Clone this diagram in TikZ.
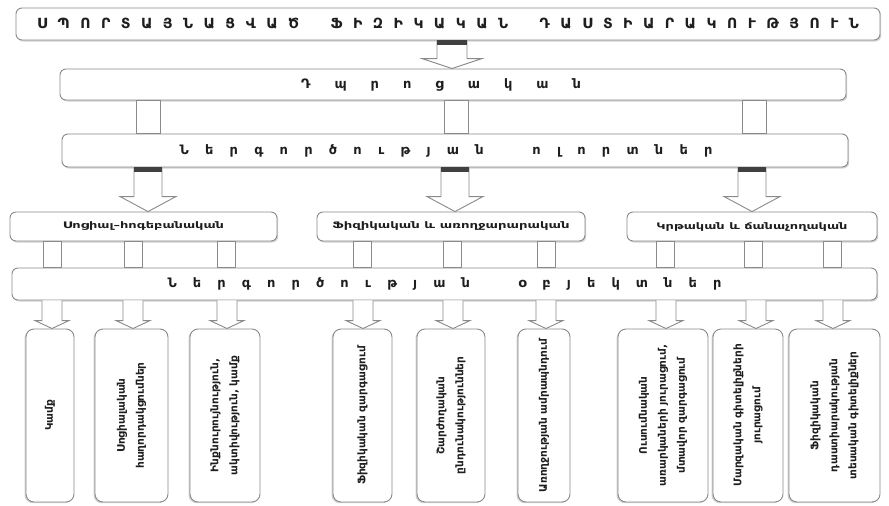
\documentclass[tikz,border=0pt]{standalone}
\usepackage{fontspec}
\usepackage{graphicx}
\setmainfont{DejaVu Sans}
\usetikzlibrary{calc,shadows}
\definecolor{bordergray}{HTML}{8A8A8A}
\definecolor{txt}{HTML}{1E1E1E}
\tikzset{
  boxbase/.style={draw=bordergray, line width=0.9pt, fill=white, rounded corners=6pt, inner sep=0pt, text=txt},
  box/.style={boxbase, drop shadow={shadow xshift=1.2pt, shadow yshift=-1.5pt, fill=black!35, opacity=0.5}},
  vbox/.style={boxbase, rotate=90, rounded corners=8pt, align=center, minimum width=173pt,
     font=\fontsize{10.5}{19}\selectfont\bfseries,
     drop shadow={shadow xshift=-1.5pt, shadow yshift=-1.2pt, fill=black!35, opacity=0.5}},
  conn/.style={draw=bordergray, line width=0.9pt, fill=white},
  barrowst/.style={draw=bordergray, line width=0.9pt, fill=white, line join=miter},
  bigtext/.style={font=\fontsize{13}{13}\selectfont\bfseries},
  grptext/.style={font=\fontsize{9}{9}\selectfont\bfseries},
}
% #1 x, #2 source anchor, #3 target anchor, #4 shaft half width, #5 head half width, #6 head length
\newcommand\blockarrow[6]{%
  \coordinate (ba-x) at (#1,0);
  \coordinate (ba-t) at (ba-x |- #2);
  \coordinate (ba-b) at (ba-x |- #3);
  \draw[barrowst] ($(ba-t)+(-#4,0)$) -- ($(ba-b)+(-#4,-#6)$)
    -- ($(ba-b)+(-#5,-#6)$) -- (ba-b)
    -- ($(ba-b)+(#5,-#6)$) -- ($(ba-b)+(#4,-#6)$)
    -- ($(ba-t)+(#4,0)$);
}
\newcommand\arrowbar[3]{%
  \coordinate (bb-x) at (#1,0);
  \coordinate (bb-t) at (bb-x |- #2);
  \fill[black!75] ($(bb-t)+(-#3,0)$) rectangle ($(bb-t)+(#3,5)$);
}
\newcommand\connrect[4]{%
  \coordinate (cr-x) at (#1,0);
  \coordinate (cr-t) at (cr-x |- #2);
  \coordinate (cr-b) at (cr-x |- #3);
  \draw[conn] ($(cr-t)+(-#4,0)$) rectangle ($(cr-b)+(#4,0)$);
}
\begin{document}
\begin{tikzpicture}[x=1pt,y=-1pt]
\fill[white] (0,0) rectangle (889,506);
\useasboundingbox (0,0) rectangle (889,506);

% title
\node[box, minimum width=864pt, minimum height=32pt, font=\fontsize{14}{14}\selectfont\bfseries] (title) at (448,24)
 {\hbox to 822pt{Ս\hfill Պ\hfill Ո\hfill Ր\hfill Տ\hfill Ա\hfill Յ\hfill Ն\hfill Ա\hfill Ց\hfill Վ\hfill Ա\hfill Ծ\hfill\hfill\hfill Ֆ\hfill Ի\hfill Զ\hfill Ի\hfill Կ\hfill Ա\hfill Կ\hfill Ա\hfill Ն\hfill\hfill\hfill Դ\hfill Ա\hfill Ս\hfill Տ\hfill Ի\hfill Ա\hfill Ր\hfill Ա\hfill Կ\hfill Ո\hfill Ւ\hfill Թ\hfill Յ\hfill Ո\hfill Ւ\hfill Ն}};

% school
\node[box, bigtext, minimum width=786pt, minimum height=31pt] (dp) at (453,84.5)
 {\hbox to 280pt{Դ\hfill պ\hfill ր\hfill ո\hfill ց\hfill ա\hfill կ\hfill ա\hfill ն}\hspace*{24pt}};

% spheres
\node[box, bigtext, minimum width=786pt, minimum height=33pt] (nerg) at (455,150.5)
 {\hbox to 533pt{Ն\hfill ե\hfill ր\hfill գ\hfill ո\hfill ր\hfill ծ\hfill ո\hfill ւ\hfill թ\hfill յ\hfill ա\hfill ն\hfill\hfill\hfill ո\hfill լ\hfill ո\hfill ր\hfill տ\hfill ն\hfill ե\hfill ր}\hspace*{18pt}};

% groups
\node[box, grptext, minimum width=267pt, minimum height=29pt] (g1) at (143.5,226.5)
 {\resizebox{161pt}{\height}{Սոցիալ–հոգեբանական}};
\node[box, grptext, minimum width=268pt, minimum height=29pt] (g2) at (451,226.5)
 {\resizebox{237pt}{\height}{Ֆիզիկական և առողջարարական}};
\node[box, grptext, minimum width=250pt, minimum height=29pt] (g3) at (752,226.5)
 {\resizebox{191pt}{\height}{Կրթական և ճանաչողական}};

% objects
\node[box, bigtext, minimum width=865pt, minimum height=32pt] (obj) at (444.5,284)
 {\hbox to 554pt{Ն\hfill ե\hfill ր\hfill գ\hfill ո\hfill ր\hfill ծ\hfill ո\hfill ւ\hfill թ\hfill յ\hfill ա\hfill ն\hfill\hfill\hfill օ\hfill բ\hfill յ\hfill ե\hfill կ\hfill տ\hfill ն\hfill ե\hfill ր}};

% bottom boxes (rotated: east anchor is the top edge)
\node[vbox, minimum height=48pt] (b1) at (50,415.5) {Կամք};
\node[vbox, minimum height=73pt] (b2) at (131.5,415.5) {Սոցիալական\\հաղորդակցումներ};
\node[vbox, minimum height=70pt] (b3) at (225,415.5) {Ինքնուրույնություն,\\ակտիվություն, կամք};
\node[vbox, minimum height=59pt] (b4) at (362.5,415.5) {Ֆիզիկական զարգացում};
\node[vbox, minimum height=68pt] (b5) at (451,415.5) {Շարժողական\\ընդունակություններ};
\node[vbox, minimum height=52pt] (b6) at (544,415.5) {Առողջության ամրապնդում};
\node[vbox, minimum height=90pt] (b7) at (663,415.5) {Ուսումնական\\առարկաների յուրացում,\\մտավոր զարգացում};
\node[vbox, minimum height=70pt] (b8) at (748,415.5) {Մարզական գիտելիքների\\յուրացում};
\node[vbox, minimum height=91pt] (b9) at (834.5,415.5) {Ֆիզիկական\\դաստիարակության\\տեսական գիտելիքներ};

% title -> school
\blockarrow{452}{title.south}{dp.north}{15}{30}{10}
\arrowbar{452}{title.south}{15}

% school -> spheres
\connrect{148}{dp.south}{nerg.north}{12}
\connrect{456}{dp.south}{nerg.north}{12}
\connrect{754}{dp.south}{nerg.north}{12}

% spheres -> groups
\blockarrow{148}{nerg.south}{g1.north}{14}{28}{15}
\arrowbar{148}{nerg.south}{14}
\blockarrow{455}{nerg.south}{g2.north}{14}{28}{15}
\arrowbar{455}{nerg.south}{14}
\blockarrow{752}{nerg.south}{g3.north}{14}{28}{15}
\arrowbar{752}{nerg.south}{14}

% groups -> objects
\connrect{52}{g1.south}{obj.north}{9}
\connrect{133}{g1.south}{obj.north}{9}
\connrect{226}{g1.south}{obj.north}{9}
\connrect{362}{g2.south}{obj.north}{9}
\connrect{452}{g2.south}{obj.north}{9}
\connrect{546}{g2.south}{obj.north}{9}
\connrect{665}{g3.south}{obj.north}{9}
\connrect{753}{g3.south}{obj.north}{9}
\connrect{832}{g3.south}{obj.north}{9}

% objects -> bottom
\blockarrow{52}{obj.south}{b1.east}{10}{17}{8}
\blockarrow{133}{obj.south}{b2.east}{10}{17}{8}
\blockarrow{227}{obj.south}{b3.east}{10}{17}{8}
\blockarrow{363}{obj.south}{b4.east}{10}{17}{8}
\blockarrow{453}{obj.south}{b5.east}{10}{17}{8}
\blockarrow{546}{obj.south}{b6.east}{10}{17}{8}
\blockarrow{666}{obj.south}{b7.east}{10}{17}{8}
\blockarrow{756}{obj.south}{b8.east}{10}{17}{8}
\blockarrow{833}{obj.south}{b9.east}{10}{17}{8}
\end{tikzpicture}
\end{document}
